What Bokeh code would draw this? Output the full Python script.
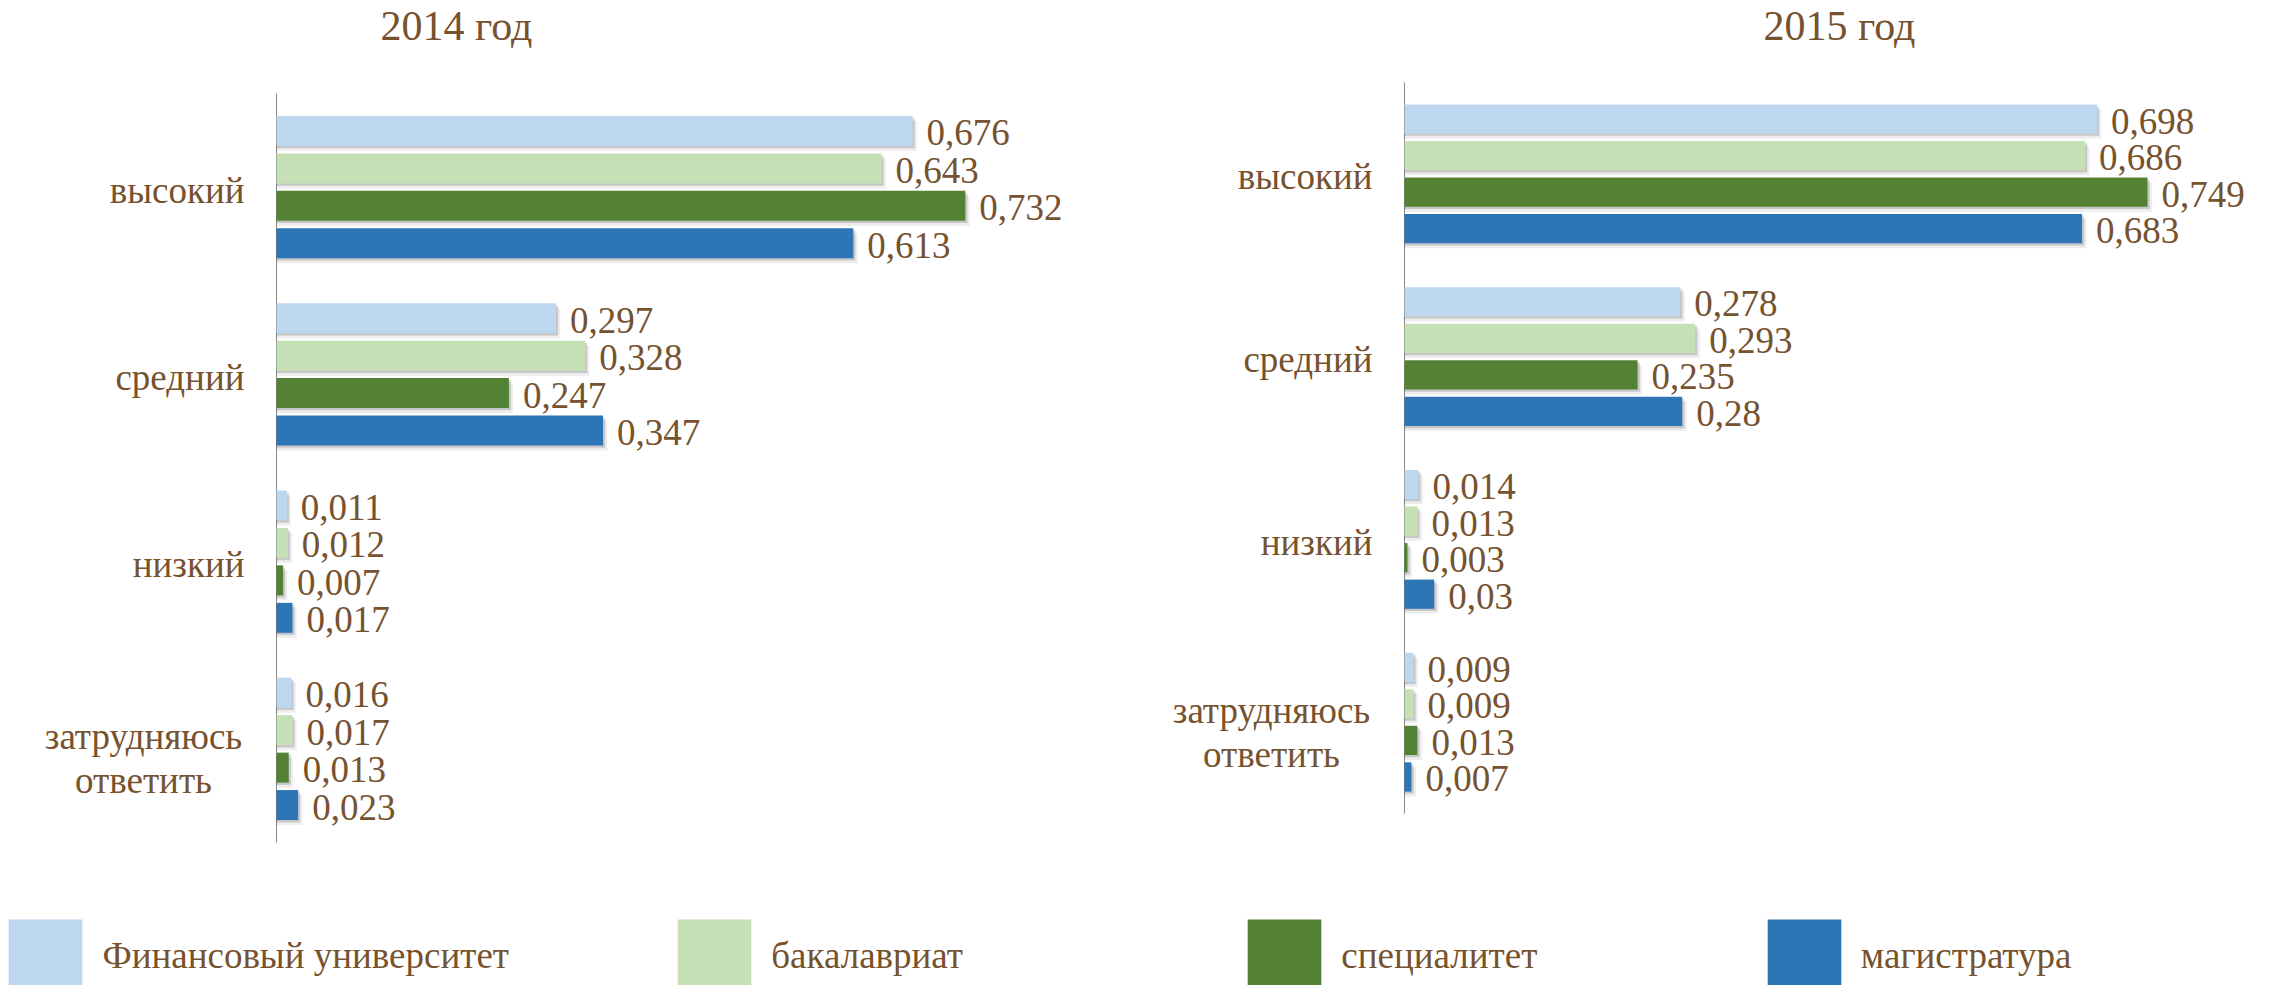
from bokeh.plotting import figure
from bokeh.models import (FactorRange, Range1d, ColumnDataSource, Legend, LegendItem, Label)
from bokeh.transform import dodge
from bokeh.embed import file_html
from bokeh.resources import INLINE
from bokeh.core.properties import value

# ---------------- data ----------------
categories = ["высокий", "средний", "низкий", "затрудняюсь ответить"]
category_text = ["высокий", "средний", "низкий", "затрудняюсь\nответить"]
series = ["Финансовый университет", "бакалавриат", "специалитет", "магистратура"]

v2014_fin = [0.676, 0.297, 0.011, 0.016]
v2014_bak = [0.643, 0.328, 0.012, 0.017]
v2014_spec = [0.732, 0.247, 0.007, 0.013]
v2014_mag = [0.613, 0.347, 0.017, 0.023]

v2015_fin = [0.698, 0.278, 0.014, 0.009]
v2015_bak = [0.686, 0.293, 0.013, 0.009]
v2015_spec = [0.749, 0.235, 0.003, 0.013]
v2015_mag = [0.683, 0.28, 0.03, 0.007]

titles = ["2014 год", "2015 год"]

# ---------------- style ----------------
colors = ["#BDD7EE", "#C5E0B4", "#548235", "#2E75B6"]
FONT = "Liberation Serif"
BROWN = "#76522F"
AXIS_GRAY = "#8A8A8A"
CAT_SIZE = "37px"
VAL_SIZE = "37px"
offsets = [0.3, 0.1, -0.1, -0.3]
BAR_H = 0.16

W, H = 2272, 985

# panel geometry (pixels inside the canvas)
panels = [
    dict(title=titles[0], zero_px=276, ppu=941.0, top_px=93, unit_px=187.25,
         title_x=380, vals=[v2014_fin, v2014_bak, v2014_spec, v2014_mag]),
    dict(title=titles[1], zero_px=1404, ppu=992.0, top_px=82, unit_px=182.75,
         title_x=1763, vals=[v2015_fin, v2015_bak, v2015_spec, v2015_mag]),
]


def fmt(v):
    return ("%g" % v).replace(".", ",")


# build ranges first
for pan in panels:
    pan["xr"] = Range1d(-pan["zero_px"] / pan["ppu"], (W - pan["zero_px"]) / pan["ppu"])
    side = (H / pan["unit_px"] - len(categories)) / 2.0
    pan["yr"] = FactorRange(factors=list(reversed(categories)),
                            range_padding=side / 2.0, range_padding_units="percent")
    pan["shift"] = (side * pan["unit_px"] - pan["top_px"]) / pan["unit_px"]

p = figure(width=W, height=H, x_range=panels[0]["xr"], y_range=panels[0]["yr"],
           x_axis_location=None, y_axis_location=None,
           output_backend="svg", toolbar_location=None,
           min_border=0, min_border_left=0, min_border_right=0,
           min_border_top=0, min_border_bottom=0)
p.outline_line_color = None
p.background_fill_color = "white"
p.border_fill_color = "white"
p.xgrid.visible = False
p.ygrid.visible = False
p.grid.grid_line_color = None
p.extra_x_ranges = {"xr": panels[1]["xr"]}
p.extra_y_ranges = {"yr": panels[1]["yr"]}
panels[0]["xname"], panels[0]["yname"] = "default", "default"
panels[1]["xname"], panels[1]["yname"] = "xr", "yr"

legend_renderers = None

for pan in panels:
    xname, yname, yr, shift = pan["xname"], pan["yname"], pan["yr"], pan["shift"]

    sources = []
    for vals in pan["vals"]:
        sources.append(ColumnDataSource(dict(
            cat=categories,
            val=vals,
            lab=[fmt(v) for v in vals],
            sh1=[v + 0.0022 for v in vals],
            sh2=[v + 0.0045 for v in vals],
        )))

    # axis line spanning the category block
    ax_src = ColumnDataSource(dict(top=[categories[0]], bottom=[categories[-1]], x=[0]))
    p.segment(x0="x", x1="x", y0=dodge("top", shift + 0.5, range=yr),
              y1=dodge("bottom", shift - 0.5, range=yr), source=ax_src,
              line_color=AXIS_GRAY, line_width=1,
              x_range_name=xname, y_range_name=yname)

    # soft drop shadows
    for src, off in zip(sources, offsets):
        p.hbar(y=dodge("cat", shift + off - 0.027, range=yr), left=0, right="sh2",
               height=BAR_H, source=src, fill_color="black", fill_alpha=0.07,
               line_color=None, x_range_name=xname, y_range_name=yname)
        p.hbar(y=dodge("cat", shift + off - 0.012, range=yr), left=0, right="sh1",
               height=BAR_H, source=src, fill_color="black", fill_alpha=0.16,
               line_color=None, x_range_name=xname, y_range_name=yname)

    rends = []
    for src, off, col in zip(sources, offsets, colors):
        r = p.hbar(y=dodge("cat", shift + off, range=yr), left=0, right="val",
                   height=BAR_H, source=src, fill_color=col, line_color=None,
                   x_range_name=xname, y_range_name=yname)
        rends.append(r)
        p.text(x="val", y=dodge("cat", shift + off, range=yr), text="lab", source=src,
               x_offset=14, y_offset=2, text_baseline="middle", text_align="left",
               text_font=value(FONT), text_font_size=VAL_SIZE, text_color=BROWN,
               x_range_name=xname, y_range_name=yname)
    if legend_renderers is None:
        legend_renderers = rends

    # category labels
    single = [(c, t) for c, t in zip(categories, category_text) if "\n" not in t]
    multi = [(c, t) for c, t in zip(categories, category_text) if "\n" in t]
    s1 = ColumnDataSource(dict(cat=[c for c, t in single], txt=[t for c, t in single],
                               x=[0] * len(single)))
    p.text(x="x", y=dodge("cat", shift, range=yr), text="txt", source=s1,
           x_offset=-32, y_offset=3, text_align="right", text_baseline="middle",
           text_font=value(FONT), text_font_size=CAT_SIZE, text_color=BROWN,
           x_range_name=xname, y_range_name=yname)
    s2 = ColumnDataSource(dict(cat=[c for c, t in multi], txt=[t for c, t in multi],
                               x=[0] * len(multi)))
    p.text(x="x", y=dodge("cat", shift, range=yr), text="txt", source=s2,
           x_offset=-133, y_offset=10, text_align="center", text_baseline="middle",
           text_line_height=1.07,
           text_font=value(FONT), text_font_size=CAT_SIZE, text_color=BROWN,
           x_range_name=xname, y_range_name=yname)

    # panel title
    p.add_layout(Label(x=pan["title_x"], y=H - 25, x_units="screen", y_units="screen",
                       text=pan["title"], text_font=FONT, text_font_size="42px",
                       text_color=BROWN, text_align="left", text_baseline="middle"))

# ---------------- legend ----------------
legend_x = [-0.6, 668.3, 1238.3, 1757.8]
for name, r, lx in zip(series, legend_renderers, legend_x):
    leg = Legend(items=[LegendItem(label=name, renderers=[r])],
                 location=(lx, -15), orientation="horizontal",
                 glyph_width=92, glyph_height=90, label_standoff=11,
                 padding=0, margin=0, spacing=0,
                 border_line_color=None, background_fill_alpha=0,
                 label_text_font=FONT, label_text_font_size=CAT_SIZE,
                 label_text_color=BROWN)
    p.add_layout(leg)

with open("out.html", "w") as f:
    f.write(file_html(p, INLINE))
